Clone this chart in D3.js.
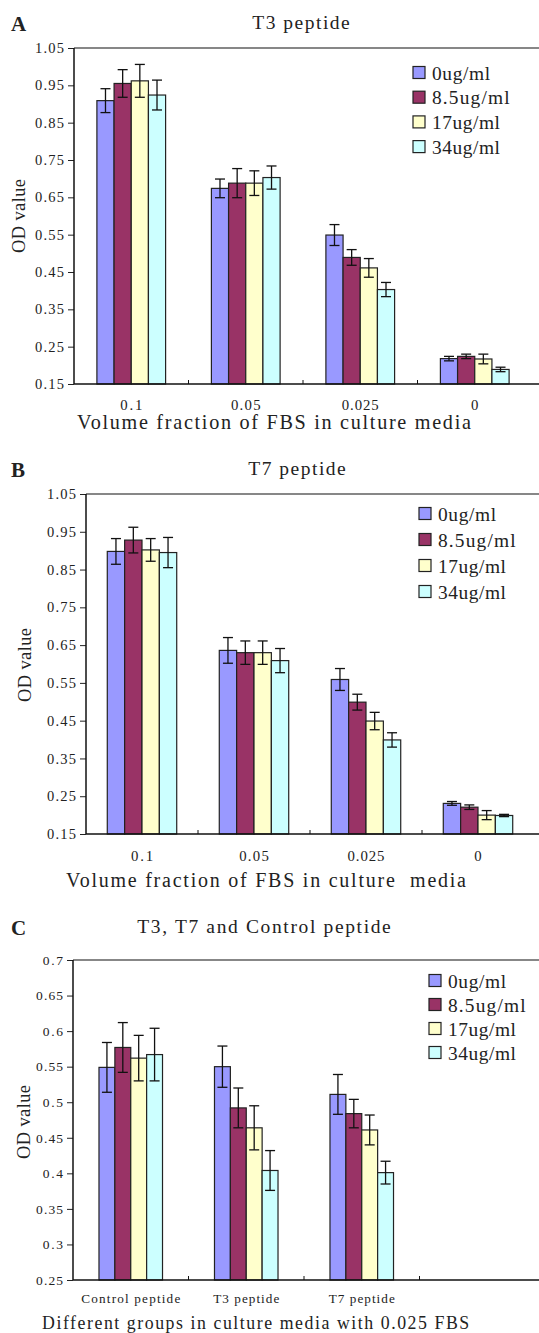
<!DOCTYPE html>
<html>
<head>
<meta charset="utf-8">
<script src="https://cdn.jsdelivr.net/npm/d3@7"></script>
<style>
  body { margin: 0; background: #fff; }
  text { font-family: "Liberation Serif", "DejaVu Serif", serif; fill: #222; }
</style>
</head>
<body>
<script>
/* global d3 */

// ---- data ----
const seriesNames = ['0ug/ml', '8.5ug/ml', '17ug/ml', '34ug/ml'];

const fbsCategories = ['0.1', '0.05', '0.025', '0'];
const groupCategories = ['Control peptide', 'T3 peptide', 'T7 peptide', ''];

const ticksAB = [0.15, 0.25, 0.35, 0.45, 0.55, 0.65, 0.75, 0.85, 0.95, 1.05];
const ticksC = [0.25, 0.3, 0.35, 0.4, 0.45, 0.5, 0.55, 0.6, 0.65, 0.7];

// rows = category, cols = series
const t3Means = [
  [0.909, 0.955, 0.962, 0.924],
  [0.674, 0.688, 0.688, 0.703],
  [0.549, 0.489, 0.461, 0.403],
  [0.218, 0.224, 0.217, 0.189],
];
const t3Errors = [
  [0.032, 0.037, 0.044, 0.040],
  [0.025, 0.039, 0.033, 0.031],
  [0.028, 0.021, 0.025, 0.019],
  [0.006, 0.006, 0.013, 0.006],
];

const t7Means = [
  [0.898, 0.928, 0.902, 0.895],
  [0.636, 0.630, 0.630, 0.609],
  [0.559, 0.499, 0.449, 0.399],
  [0.231, 0.221, 0.200, 0.199],
];
const t7Errors = [
  [0.034, 0.034, 0.030, 0.040],
  [0.034, 0.031, 0.031, 0.032],
  [0.029, 0.021, 0.023, 0.019],
  [0.005, 0.006, 0.012, 0.003],
];

const groupMeans = [
  [0.549, 0.577, 0.562, 0.567],
  [0.550, 0.492, 0.464, 0.404],
  [0.511, 0.484, 0.461, 0.401],
];
const groupErrors = [
  [0.035, 0.035, 0.032, 0.037],
  [0.029, 0.028, 0.031, 0.028],
  [0.028, 0.020, 0.021, 0.016],
];

const colors = ['#9999ff', '#993366', '#ffffcc', '#ccffff'];

const W = 539;
const H = 1333;

const svg = d3.select('body')
  .append('svg')
  .attr('width', W)
  .attr('height', H);

// the original uses a half-width monospaced CJK font: fake it by stretching a serif
function mono(sel, size) {
  sel.style('font-size', size + 'px')
    .attr('lengthAdjust', 'spacing')
    .attr('textLength', function () {
      const n = this.textContent.length;
      return n ? n * size * 0.5 : null;
    });
}

function drawPanel(p) {
  const g = svg.append('g');

  const y = d3.scaleLinear().domain(p.yDomain).range([p.bottom, p.top]);
  const x0 = d3.scaleBand()
    .domain(p.categories)
    .range([p.left, p.left + p.band * p.categories.length]);
  const groupW = x0.bandwidth() * p.groupFrac;
  const x1 = d3.scaleBand().domain(seriesNames).range([0, groupW]);
  const off = (x0.bandwidth() - groupW) / 2;

  // bars
  const cells = [];
  p.means.forEach((row, ci) => {
    row.forEach((m, si) => {
      cells.push({ cat: p.categories[ci], s: seriesNames[si], si, m, e: p.errors[ci][si] });
    });
  });

  g.selectAll('rect.bar')
    .data(cells)
    .enter()
    .append('rect')
    .attr('class', 'bar')
    .attr('x', (d) => x0(d.cat) + off + x1(d.s))
    .attr('y', (d) => y(d.m))
    .attr('width', x1.bandwidth())
    .attr('height', (d) => y(p.yDomain[0]) - y(d.m))
    .attr('fill', (d) => colors[d.si])
    .attr('stroke', '#222')
    .attr('stroke-width', 1.2);

  // error bars
  const eb = g.selectAll('g.err')
    .data(cells)
    .enter()
    .append('g')
    .attr('class', 'err')
    .attr('transform', (d) => `translate(${x0(d.cat) + off + x1(d.s) + x1.bandwidth() / 2},0)`)
    .attr('stroke', '#111')
    .attr('stroke-width', 1.3);
  eb.append('line')
    .attr('y1', (d) => y(d.m - d.e))
    .attr('y2', (d) => y(d.m + d.e));
  eb.append('line')
    .attr('x1', -5).attr('x2', 5)
    .attr('y1', (d) => y(d.m + d.e))
    .attr('y2', (d) => y(d.m + d.e));
  eb.append('line')
    .attr('x1', -5).attr('x2', 5)
    .attr('y1', (d) => y(d.m - d.e))
    .attr('y2', (d) => y(d.m - d.e));

  // y axis
  const yAxis = g.append('g')
    .attr('transform', `translate(${p.left},0)`)
    .call(d3.axisLeft(y).tickValues(p.ticks).tickSize(6).tickPadding(4).tickFormat(p.fmt));
  yAxis.select('.domain').remove();
  yAxis.selectAll('text').call(mono, p.tickFont).attr('fill', '#333').attr('font-family', null);
  yAxis.selectAll('line').attr('stroke', '#222');

  // frame: left, top, bottom
  g.append('line')
    .attr('x1', p.left).attr('x2', p.left)
    .attr('y1', p.top).attr('y2', p.bottom)
    .attr('stroke', '#111').attr('stroke-width', 1.5);
  g.append('line')
    .attr('x1', p.left).attr('x2', W)
    .attr('y1', p.top).attr('y2', p.top)
    .attr('stroke', '#111').attr('stroke-width', 1.2);
  g.append('line')
    .attr('x1', p.left).attr('x2', W)
    .attr('y1', p.bottom).attr('y2', p.bottom)
    .attr('stroke', '#111').attr('stroke-width', 1.5);

  // category boundary ticks
  g.selectAll('line.ctick')
    .data(p.categories.slice(1))
    .enter()
    .append('line')
    .attr('class', 'ctick')
    .attr('x1', (d) => x0(d)).attr('x2', (d) => x0(d))
    .attr('y1', p.bottom).attr('y2', p.bottom - 4)
    .attr('stroke', '#111');

  // category labels
  const xAxis = g.append('g')
    .attr('transform', `translate(0,${p.bottom})`)
    .call(d3.axisBottom(x0).tickSize(0).tickPadding(p.catPad));
  xAxis.select('.domain').remove();
  xAxis.selectAll('text').call(mono, p.catFont).attr('fill', '#333').attr('font-family', null);

  // titles
  g.append('text')
    .attr('x', p.titleX).attr('y', p.titleY)
    .attr('text-anchor', 'middle')
    .text(p.title)
    .call(mono, 19.5);

  g.append('text')
    .attr('x', 11).attr('y', p.titleY + 2)
    .style('font-weight', 'bold')
    .style('font-size', '21px')
    .attr('fill', '#000')
    .text(p.letter);

  g.append('text')
    .attr('x', p.xTitleX).attr('y', p.xTitleY)
    .attr('xml:space', 'preserve')
    .text(p.xTitle)
    .call(mono, p.xTitleFont);

  g.append('text')
    .attr('transform', `translate(${p.yTitleX},${p.yTitleY}) rotate(-90)`)
    .attr('text-anchor', 'middle')
    .text('OD value')
    .call(mono, 18.5);

  // legend
  const lg = g.selectAll('g.leg')
    .data(seriesNames)
    .enter()
    .append('g')
    .attr('class', 'leg')
    .attr('transform', (d, i) => `translate(${p.legX},${p.legY + i * p.legStep})`);
  lg.append('rect')
    .attr('x', 0).attr('y', -6.5)
    .attr('width', 12).attr('height', 12)
    .attr('fill', (d, i) => colors[i])
    .attr('stroke', '#222')
    .attr('stroke-width', 1.2);
  lg.append('text')
    .attr('x', 19).attr('y', 6.5)
    .text((d) => d)
    .call(mono, 19.4);
}

drawPanel({
  letter: 'A', title: 'T3 peptide', titleX: 301, titleY: 29,
  categories: fbsCategories, means: t3Means, errors: t3Errors,
  yDomain: [0.15, 1.05], ticks: ticksAB, fmt: d3.format('.2f'),
  left: 74, top: 48, bottom: 384, band: 114.5, groupFrac: 0.6,
  tickFont: 14.5, catFont: 14.8, catPad: 15,
  xTitle: 'Volume fraction of FBS in culture media', xTitleX: 77, xTitleY: 429, xTitleFont: 20.2,
  yTitleX: 25, yTitleY: 216,
  legX: 413, legY: 73, legStep: 24.7,
});

drawPanel({
  letter: 'B', title: 'T7 peptide', titleX: 297, titleY: 475,
  categories: fbsCategories, means: t7Means, errors: t7Errors,
  yDomain: [0.15, 1.05], ticks: ticksAB, fmt: d3.format('.2f'),
  left: 86, top: 494, bottom: 834, band: 112, groupFrac: 0.62,
  tickFont: 14.5, catFont: 14.8, catPad: 16,
  xTitle: 'Volume fraction of FBS in culture  media', xTitleX: 66, xTitleY: 887, xTitleFont: 20,
  yTitleX: 31, yTitleY: 665,
  legX: 419, legY: 514, legStep: 26,
});

drawPanel({
  letter: 'C', title: 'T3, T7 and Control peptide', titleX: 264, titleY: 933,
  categories: groupCategories, means: groupMeans, errors: groupErrors,
  yDomain: [0.25, 0.7], ticks: ticksC, fmt: d3.format('~g'),
  left: 73, top: 960, bottom: 1280, band: 115.5, groupFrac: 0.55,
  tickFont: 13.5, catFont: 13.2, catPad: 14,
  xTitle: 'Different groups in culture media with 0.025 FBS', xTitleX: 42, xTitleY: 1329, xTitleFont: 17.8,
  yTitleX: 30, yTitleY: 1122,
  legX: 429, legY: 981, legStep: 24,
});
</script>
</body>
</html>
